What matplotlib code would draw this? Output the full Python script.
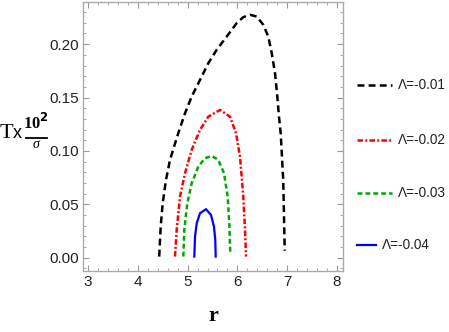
import matplotlib
matplotlib.use("Agg")
import matplotlib.pyplot as plt
from matplotlib.lines import Line2D
from matplotlib.ticker import MultipleLocator

plt.rcParams['lines.scale_dashes'] = False

# Data
r_a = [4.43, 4.46, 4.50, 4.566, 4.647, 4.77, 4.813, 4.948, 5.082, 5.249, 5.416, 5.584,
       5.785, 5.986, 6.118, 6.253, 6.388, 6.52, 6.62, 6.689, 6.755, 6.801, 6.835, 6.869,
       6.92, 6.95]
T_a = [0.001, 0.029, 0.051, 0.0728, 0.0916, 0.1103, 0.1166, 0.1353, 0.1509, 0.1665, 0.1822,
       0.1947, 0.2071, 0.2197, 0.2253, 0.2275, 0.2259, 0.2181, 0.2071, 0.1916, 0.1728, 0.1509,
       0.1321, 0.1166, 0.0728, 0.0065]

r_b = [4.747, 4.781, 4.847, 4.948, 5.082, 5.249, 5.416, 5.651, 5.851, 5.972, 6.052, 6.118,
       6.153, 6.173]
T_b = [0.001, 0.026, 0.0572, 0.0791, 0.101, 0.1197, 0.1321, 0.1384, 0.1321, 0.1166, 0.0947,
       0.0572, 0.026, 0.001]

r_c = [4.914, 4.934, 4.994, 5.082, 5.215, 5.349, 5.484, 5.616, 5.731, 5.805, 5.837, 5.857]
T_c = [0.001, 0.026, 0.051, 0.0697, 0.0853, 0.0931, 0.0953, 0.0916, 0.0791, 0.0572, 0.0322,
       0.0041]

r_d = [5.135, 5.149, 5.183, 5.249, 5.369, 5.47, 5.53, 5.556, 5.564]
T_d = [0.001, 0.0197, 0.0322, 0.0416, 0.0454, 0.040, 0.029, 0.0166, 0.001]

labels = ["Λ=-0.01", "Λ=-0.02", "Λ=-0.03", "Λ=-0.04"]
colors = ["black", "#ff0000", "#00a800", "#0000ff"]
dashes = [(5, 3), (4, 1.6, 1.4, 1.6), (3.5, 2.2), None]

xticks = [3, 4, 5, 6, 7, 8]
yticks = [0.00, 0.05, 0.10, 0.15, 0.20]

fig = plt.figure(figsize=(4.49, 3.32), dpi=100)
ax = fig.add_axes([83/449, 1 - 271/332, 260/449, 269/332])

series = [(r_a, T_a), (r_b, T_b), (r_c, T_c), (r_d, T_d)]
for (rr, tt), c, d in zip(series, colors, dashes):
    if d is None:
        ax.plot(rr, tt, color=c, lw=1.6)
    else:
        ax.plot(rr, tt, color=c, lw=1.8, dashes=d)

ax.set_xlim(2.9, 8.12)
ax.set_ylim(-0.0125, 0.2395)
ax.set_xticks(xticks)
ax.set_yticks(yticks)
ax.set_yticklabels([f"{v:.2f}" for v in yticks])
ax.xaxis.set_minor_locator(MultipleLocator(0.2))
ax.yaxis.set_minor_locator(MultipleLocator(0.01))
ax.tick_params(which='both', direction='in', top=True, right=True, color='#999999')
ax.tick_params(which='major', length=4, width=0.8)
ax.tick_params(which='minor', length=2.2, width=0.6)
ax.tick_params(labelsize=11, labelcolor='#222222', pad=3)
for lab in ax.get_xticklabels() + ax.get_yticklabels():
    lab.set_fontfamily('Liberation Sans')
for s in ax.spines.values():
    s.set_color('#aaaaaa')
    s.set_linewidth(1.0)

fig.text(213/449, 1 - 316/332, "r", fontsize=16, fontweight='bold',
         family='Liberation Serif', ha='center', va='center')

# y label: Tx (10^2 / sigma)
fig.text(0/449, 1 - 133/332, "T", fontsize=16, family='Liberation Serif',
         ha='left', va='center')
fig.text(13/449, 1 - 134/332, "x", fontsize=13, family='Liberation Sans',
         ha='left', va='center')
fig.text(36/449, 1 - 129/332, r"10$^{\mathbf{2}}$", fontsize=12, fontweight='bold',
         family='Liberation Serif', ha='center', va='baseline')
fig.add_artist(Line2D([26/449, 47/449], [1 - 137.5/332, 1 - 137.5/332], color='black',
                      lw=1.3, transform=fig.transFigure))
fig.text(36/449, 1 - 145/332, "σ", fontsize=10, style='italic',
         family='Liberation Serif', ha='center', va='center')

# legend (manual, outside right)
ys = [85, 140, 193, 245]
for y, c, d, lab in zip(ys, colors, dashes, labels):
    yf = 1 - y/332
    if d is None:
        x0, x1, xt = 357, 376, 382
        ln = Line2D([x0/449, x1/449], [yf, yf], color=c, lw=1.6, transform=fig.transFigure)
    else:
        x0, x1, xt = 357, 392, 398
        ln = Line2D([x0/449, x1/449], [yf, yf], color=c, lw=1.8, dashes=d, transform=fig.transFigure)
    fig.add_artist(ln)
    fig.text(xt/449, yf, lab, fontsize=9.8, family='Liberation Sans',
             color='#222222', ha='left', va='center')

fig.savefig("out.png", dpi=100)
